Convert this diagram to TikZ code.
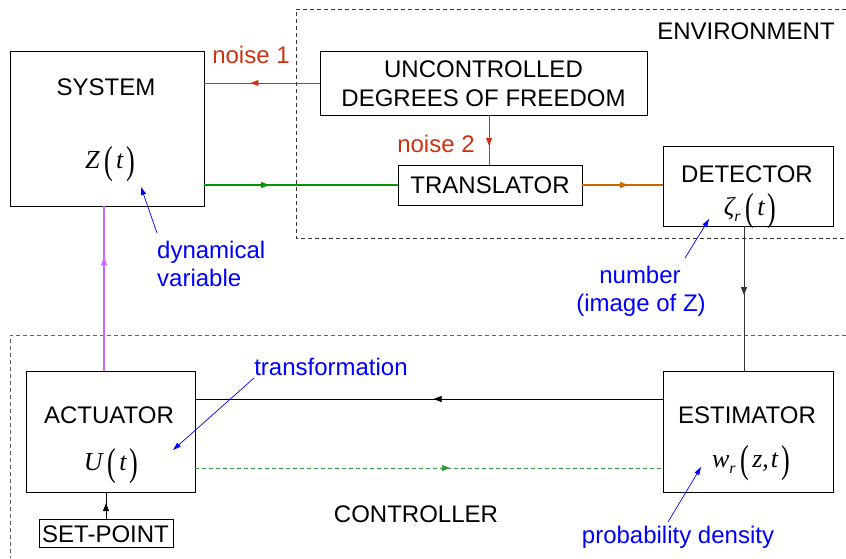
\documentclass[tikz,border=0pt]{standalone}
\usepackage{fontspec}
\usepackage{graphicx}
\setmainfont{Liberation Sans}
\newfontfamily\tnr{Liberation Serif}
\usetikzlibrary{decorations.markings,arrows.meta,calc}
\definecolor{redA}{HTML}{CC3311}
\definecolor{orangeA}{HTML}{CC6600}
\definecolor{greenA}{HTML}{009900}
\definecolor{greenB}{HTML}{33993A}
\definecolor{magA}{HTML}{CC66FF}
\definecolor{blueA}{HTML}{0000FF}
\newcommand{\mvar}[1]{{\tnr\itshape\fontsize{26}{26}\selectfont #1}}
\newcommand{\bparen}[1]{\raisebox{-5pt}{\scalebox{1}[1.5]{\tnr\fontsize{26}{26}\selectfont #1}}}
\newcommand{\lpar}{\hspace{5pt}\bparen{(}\hspace{3pt}}
\newcommand{\rpar}{\hspace{3pt}\bparen{)}}
\newcommand{\subr}{\raisebox{-6pt}{\tnr\itshape\fontsize{16}{16}\selectfont r}}
\begin{document}
\begin{tikzpicture}[x=1pt,y=-1pt,
  box/.style={draw, line width=0.8pt, inner sep=0pt, anchor=center},
  txt/.style={anchor=base, inner sep=0pt, font=\fontsize{24}{28}\selectfont},
  btxt/.style={txt, text=blueA},
  ma/.style={postaction={decorate,decoration={markings,mark=at position #1 with {\arrow{Triangle[length=8pt,width=6pt]}}}}},
  note/.style={blueA, line width=0.7pt, -{Triangle[length=8pt,width=5pt]}}]
\useasboundingbox (0,0) rectangle (846,558);
% regions
\draw[line width=0.7pt, black!80, dash pattern=on 4pt off 3pt] (846,9) -- (296,9) -- (296,238) -- (846,238);
\draw[line width=0.7pt, black!60, dash pattern=on 4pt off 3pt] (846,335) -- (10,335) -- (10,558);
% boxes
\node[box, minimum width=194pt, minimum height=155pt] (sys) at (107,128.5) {};
\node[box, minimum width=327pt, minimum height=64pt] (unc) at (483.5,83) {};
\node[box, minimum width=184pt, minimum height=40pt] (trans) at (490,185) {};
\node[box, minimum width=170pt, minimum height=80pt] (det) at (748,186) {};
\node[box, minimum width=169pt, minimum height=121pt] (act) at (110.5,431.5) {};
\node[box, minimum width=170pt, minimum height=121pt] (est) at (748,431.5) {};
\node[box, minimum width=134pt, minimum height=28pt] (sp) at (106,533) {};
% texts
\node[txt] (tsys) at (106,95) {SYSTEM};
\node[txt] (tz) at (110,168) {\mvar{Z}\lpar\mvar{t}\rpar};
\node[txt] (tenv) at (746,39) {ENVIRONMENT};
\node[txt] (tunc1) at (483.5,77) {UNCONTROLLED};
\node[txt] (tunc2) at (483.5,106) {DEGREES OF FREEDOM};
\node[txt, text=redA] (tn1) at (251,63) {noise 1};
\node[txt, text=redA] (tn2) at (436,152) {noise 2};
\node[txt] (ttr) at (490,193) {TRANSLATOR};
\node[txt] (tdet) at (747,182) {DETECTOR};
\node[txt] (tzeta) at (750,215) {\mvar{ζ}\subr\lpar\mvar{t}\rpar};
\node[txt] (tact) at (109,423) {ACTUATOR};
\node[txt] (tu) at (111,470) {\mvar{U}\lpar\mvar{t}\rpar};
\node[txt] (test) at (747,423) {ESTIMATOR};
\node[txt] (tw) at (751,467) {\mvar{w}\subr\lpar\mvar{z}\mvar{,}\hspace{2pt}\mvar{t}\rpar};
\node[txt] (tctl) at (416,522) {CONTROLLER};
\node[txt] (tsp) at (105.5,542) {SET-POINT};
\node[btxt, anchor=base west] (tdyn1) at (157,258) {dynamical};
\node[btxt, anchor=base west] (tdyn2) at (157,286) {variable};
\node[btxt] (tnum1) at (640,283) {number};
\node[btxt] (tnum2) at (641,311) {(image of Z)};
\node[btxt] (ttra) at (331,375) {transformation};
\node[btxt] (tpd) at (678,543) {probability density};
% connectors
\draw[redA, line width=0.9pt, ma=0.6] (unc.west) -- (unc.west -| sys.east);
\draw[greenA, line width=1.4pt, ma=0.335] (trans.west -| sys.east) -- (trans.west);
\coordinate (n2) at ($(unc.south west)!0.517!(unc.south east)$);
\draw[redA, line width=0.9pt, ma=0.62] (n2) -- (n2 |- trans.north);
\draw[orangeA, line width=1.3pt, ma=0.57] (trans.east) -- (trans.east -| det.west);
\coordinate (d1) at ($(det.south)+(-4,0)$);
\draw[black!80, line width=0.8pt, ma=0.476] (d1) -- (d1 |- est.north);
\coordinate (e1) at ($(est.west)+(0,-32.5)$);
\draw[line width=0.8pt, ma=0.49] (e1) -- (e1 -| act.east);
\coordinate (e2) at ($(act.east)+(0,36.5)$);
\draw[greenB, line width=0.9pt, dash pattern=on 4pt off 3pt, ma=0.545] (e2) -- (e2 -| est.west);
\coordinate (m1) at ($(act.north)+(-6.5,0)$);
\draw[magA, line width=1.3pt, ma=0.69] (m1) -- (m1 |- sys.south);
\draw[line width=0.8pt, ma=0.59] (sp.north) -- (sp.north |- act.south);
% annotation arrows
\coordinate (a1s) at (157,233); \coordinate (a1e) at (141,187);
\draw[note] (a1s) -- (a1e);
\coordinate (a2s) at (685,258); \coordinate (a2e) at (709,219);
\draw[note] (a2s) -- (a2e);
\coordinate (a3s) at (254,378); \coordinate (a3e) at (173,450);
\draw[note] (a3s) -- (a3e);
\coordinate (a4s) at (668,522); \coordinate (a4e) at (701,467);
\draw[note] (a4s) -- (a4e);
\end{tikzpicture}
\end{document}
